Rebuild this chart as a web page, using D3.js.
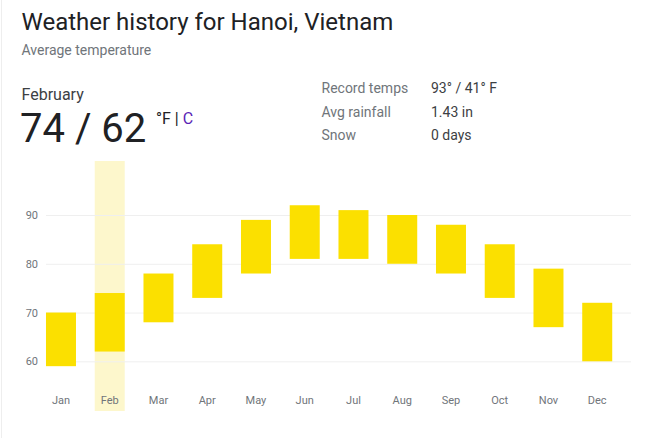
<!DOCTYPE html>
<html>
<head>
<meta charset="utf-8">
<script src="https://cdn.jsdelivr.net/npm/d3@7"></script>
<style>
  html, body { margin: 0; padding: 0; background: #fff; }
  svg { display: block; font-family: Roboto, Arial, sans-serif; }
</style>
</head>
<body>
<svg id="chart" width="650" height="438"></svg>
<script>
const months = ["Jan","Feb","Mar","Apr","May","Jun","Jul","Aug","Sep","Oct","Nov","Dec"];
const highs  = [70, 74, 78, 84, 89, 92, 91, 90, 88, 84, 79, 72];
const lows   = [59, 62, 68, 73, 78, 81, 81, 80, 78, 73, 67, 60];
const yTicks = [60, 70, 80, 90];
const selectedMonth = "Feb";
const statLabels = ["Record temps", "Avg rainfall", "Snow"];
const statValues = ["93° / 41° F", "1.43 in", "0 days"];

const svg = d3.select("#chart");

// card left border
svg.append("line").attr("x1", 1.5).attr("x2", 1.5).attr("y1", 0).attr("y2", 438)
  .attr("stroke", "#eeeeee").attr("stroke-width", 1);

// header
svg.append("text").attr("x", 21.5).attr("y", 30)
  .attr("font-size", 24).attr("fill", "#202124")
  .text("Weather history for Hanoi, Vietnam");
svg.append("text").attr("x", 21.5).attr("y", 55)
  .attr("font-size", 14).attr("fill", "#70757a")
  .text("Average temperature");

svg.append("text").attr("x", 21.5).attr("y", 100)
  .attr("font-size", 16).attr("fill", "#3c4043")
  .text("February");
const selIdx = months.indexOf(selectedMonth);
svg.append("text").attr("x", 20).attr("y", 141.5)
  .attr("font-size", 40).attr("fill", "#202124")
  .text(highs[selIdx] + " / " + lows[selIdx]);
const unit = svg.append("text").attr("x", 156).attr("y", 124).attr("font-size", 16);
unit.append("tspan").attr("fill", "#202124").text("°F");
unit.append("tspan").attr("fill", "#202124").attr("dx", 4).text("|");
unit.append("tspan").attr("fill", "#5a1fb5").attr("dx", 4).text("C");

statLabels.forEach((l, i) => {
  const yy = 93 + i * 23.5;
  svg.append("text").attr("x", 321.5).attr("y", yy).attr("font-size", 14)
    .attr("fill", "#70757a").text(l);
  svg.append("text").attr("x", 431).attr("y", yy).attr("font-size", 14)
    .attr("fill", "#3c4043").text(statValues[i]);
});

// scales
const x = d3.scaleBand().domain(months).range([36.6, 621.6])
  .paddingInner(0.3846).paddingOuter(0.1923);
const y = d3.scaleLinear().domain([60, 90]).range([361.3, 215]);

// highlight column
svg.append("rect")
  .attr("x", x(selectedMonth)).attr("width", x.bandwidth())
  .attr("y", 161).attr("height", 250)
  .attr("fill", "#fdf7cc");

// gridlines + y labels
const yAxis = svg.append("g").attr("transform", "translate(46,0)")
  .call(d3.axisLeft(y).tickValues(yTicks).tickSize(-585).tickPadding(8));
yAxis.select(".domain").remove();
yAxis.selectAll(".tick line").attr("stroke", "#efefef");
yAxis.selectAll(".tick text").attr("fill", "#70757a").attr("font-size", 11)
  .attr("font-family", "Roboto, Arial, sans-serif");

// bars
svg.append("g").selectAll("rect").data(months).join("rect")
  .attr("x", d => x(d))
  .attr("width", x.bandwidth())
  .attr("y", (d, i) => y(highs[i]))
  .attr("height", (d, i) => y(lows[i]) - y(highs[i]))
  .attr("fill", "#fbe000");

// month labels
const xAxis = svg.append("g").attr("transform", "translate(0,390)")
  .call(d3.axisBottom(x).tickSize(0).tickPadding(6));
xAxis.select(".domain").remove();
xAxis.selectAll(".tick text").attr("fill", "#70757a").attr("font-size", 11)
  .attr("font-family", "Roboto, Arial, sans-serif");
</script>
</body>
</html>
